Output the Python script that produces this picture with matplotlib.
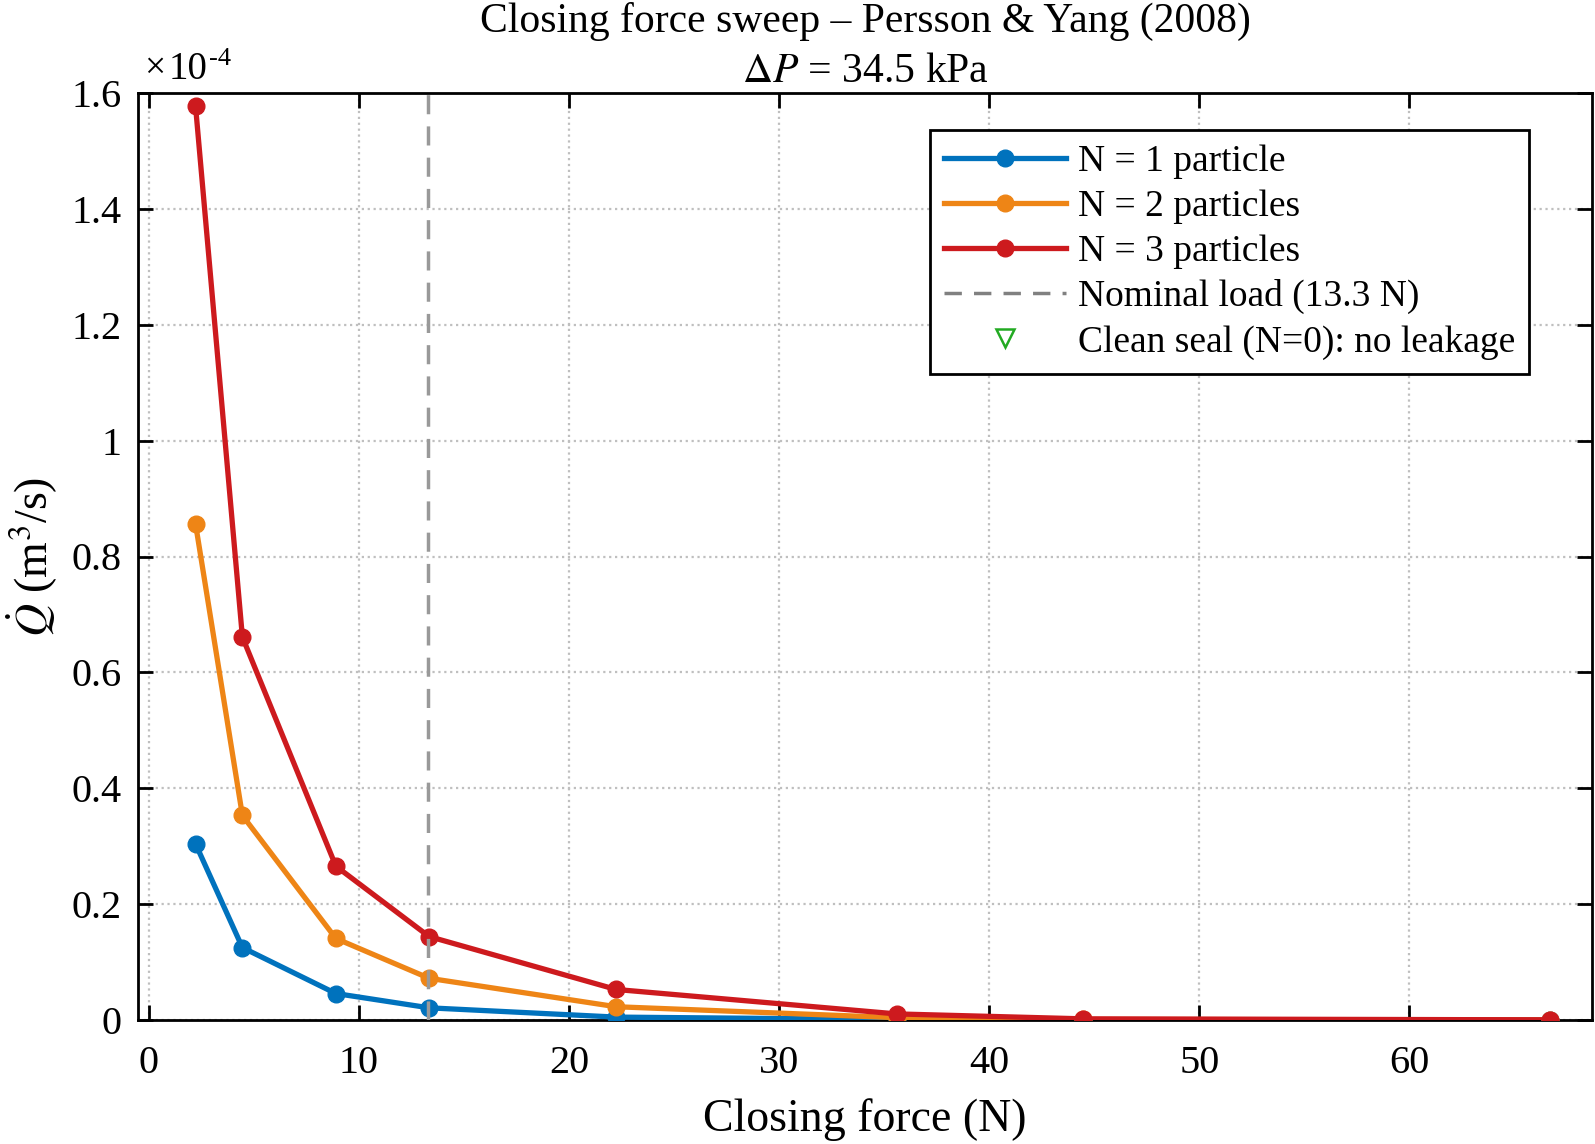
import matplotlib
matplotlib.use("Agg")
import matplotlib.pyplot as plt
from matplotlib.lines import Line2D
from matplotlib.ticker import FuncFormatter, MultipleLocator

plt.rcParams['font.family'] = ['Liberation Serif', 'DejaVu Serif']
plt.rcParams['mathtext.fontset'] = 'stix'

# Data
force_N = [2.22, 4.45, 8.90, 13.34, 22.24, 35.59, 44.48, 66.72]
q_n1 = [0.304e-4, 0.125e-4, 0.0457e-4, 0.021e-4, 0.005e-4, 0.0008e-4, 0.0003e-4, 0.00005e-4]
q_n2 = [0.856e-4, 0.353e-4, 0.1407e-4, 0.072e-4, 0.0229e-4, 0.004e-4, 0.001e-4, 0.0001e-4]
q_n3 = [1.577e-4, 0.661e-4, 0.2655e-4, 0.144e-4, 0.0527e-4, 0.0105e-4, 0.002e-4, 0.0003e-4]
nominal_load = 13.3
series_labels = ["N = 1 particle", "N = 2 particles", "N = 3 particles"]
colors = ["#0072BD", "#EE8516", "#CD1A1E"]

W, H = 1595, 1144
fig = plt.figure(figsize=(W/100, H/100), dpi=100)
ax = fig.add_axes([138/W, 1 - 1020/H, (1592-138)/W, (1020-93)/H])

handles = []
for q, lab, c in zip([q_n1, q_n2, q_n3], series_labels, colors):
    h, = ax.plot(force_N, q, '-o', color=c, lw=3.8, ms=12, label=lab, zorder=3)
    handles.append(h)
vl = ax.axvline(nominal_load, color=(0.6, 0.6, 0.6), lw=2.5, ls=(0, (5.5, 3.5)), zorder=4,
                label="Nominal load (13.3 N)")
vl_leg = Line2D([], [], color=(0.5, 0.5, 0.5), lw=2.5, ls=(0, (5, 3.5)))
clean = Line2D([], [], marker='v', ls='none', mfc='none', mec='#22AA22', ms=13, mew=1.8)

ax.set_xlim(-0.52, 68.7)
ax.set_ylim(0, 1.6e-4)
ax.xaxis.set_major_locator(MultipleLocator(10))
ax.yaxis.set_major_locator(MultipleLocator(0.2e-4))
ax.yaxis.set_major_formatter(FuncFormatter(lambda v, p: f"{v/1e-4:g}" if abs(v) > 1e-12 else "0"))
ax.grid(True, ls=':', color=(0.75, 0.75, 0.75), lw=1.6)
ax.tick_params(direction='in', length=11, width=2, top=True, right=True,
               labelsize=29)
ax.tick_params(axis='x', pad=18)
ax.tick_params(axis='y', pad=12)
for s in ax.spines.values():
    s.set_linewidth(2)

ax.set_xlabel("Closing force (N)", fontsize=33, labelpad=12)
ax.set_ylabel(r"$\dot{Q}$ (m$^3$/s)", fontsize=33, labelpad=8)
ax.set_title("Closing force sweep \u2013 Persson & Yang (2008)\n$\\Delta P$ = 34.5 kPa",
             fontsize=30, pad=8, linespacing=1.4)

# exponent label "x10^-4"
fig.text(144/W, 1 - 78/H, "\u00d7", fontsize=27, ha='left', va='baseline')
fig.text(169/W, 1 - 79/H, "10", fontsize=28, ha='left', va='baseline')
fig.text(209/W, 1 - 65/H, "-4", fontsize=19, ha='left', va='baseline')

leg = ax.legend(handles + [vl_leg, clean],
                series_labels + ["Nominal load (13.3 N)", "Clean seal (N=0): no leakage"],
                loc='upper right', bbox_to_anchor=(0.9567, 0.960), borderaxespad=0,
                fontsize=27, handlelength=3.25, handletextpad=0.3, labelspacing=0.28,
                borderpad=0.38, fancybox=False, edgecolor='black', framealpha=1)
leg.get_frame().set_linewidth(2)

fig.savefig("out.png", dpi=100)
